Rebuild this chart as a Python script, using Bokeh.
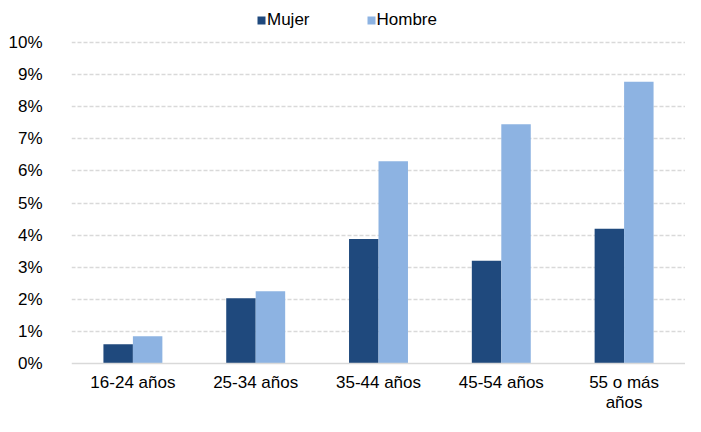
from bokeh.plotting import figure
from bokeh.models import (ColumnDataSource, FactorRange, Range1d, FixedTicker, PrintfTickFormatter,
                          Legend, LegendItem, Span)
from bokeh.transform import dodge
from bokeh.core.properties import value
from bokeh.embed import file_html
from bokeh.resources import INLINE

categories = ["16-24 años", "25-34 años", "35-44 años", "45-54 años", "55 o más\naños"]
mujer = [0.60, 2.03, 3.88, 3.20, 4.20]
hombre = [0.85, 2.25, 6.30, 7.45, 8.78]
y_ticks = [0, 1, 2, 3, 4, 5, 6, 7, 8, 9, 10]

FONT = "Liberation Sans"

# layout (pixels): frame is the whole plot right of the y labels
H, W = 416, 685
TOP10, ZERO = 42, 363            # pixel rows of 10% and 0%
PX = (ZERO - TOP10) / 10.0       # pixels per percentage point
LABEL_GAP = 9                    # gap between baseline and category labels

src = ColumnDataSource(dict(cat=categories, mujer=mujer, hombre=hombre,
                            label_y=[-LABEL_GAP / PX] * len(categories)))

p = figure(width=W, height=H, output_backend="svg", toolbar_location=None,
           x_range=FactorRange(factors=categories, range_padding=0),
           y_range=Range1d(-(H - ZERO) / PX, 10 + TOP10 / PX),
           min_border_left=71, min_border_right=0, min_border_top=0, min_border_bottom=0)
p.outline_line_color = None
p.background_fill_color = "white"
p.border_fill_color = "white"

r1 = p.vbar(x=dodge("cat", -0.12, range=p.x_range), top="mujer", width=0.24, source=src,
            fill_color="#1F497D", line_color=None)
r2 = p.vbar(x=dodge("cat", 0.12, range=p.x_range), top="hombre", width=0.24, source=src,
            fill_color="#8DB3E2", line_color=None)

p.xgrid.visible = False
p.ygrid.ticker = FixedTicker(ticks=y_ticks[1:])
p.ygrid.grid_line_color = "#d9d9d9"
p.ygrid.grid_line_dash = "4 2"
p.ygrid.grid_line_width = 1.5

p.yaxis.ticker = FixedTicker(ticks=y_ticks)
p.yaxis.formatter = PrintfTickFormatter(format="%d%%")
p.yaxis.axis_line_color = None
p.yaxis.major_tick_line_color = None
p.yaxis.minor_tick_line_color = None
p.yaxis.major_label_standoff = 23
p.yaxis.major_label_text_font = FONT
p.yaxis.major_label_text_font_size = "17px"
p.yaxis.major_label_text_color = "#000000"

p.xaxis.visible = False
p.add_layout(Span(location=0, dimension="width", line_color="#d9d9d9", line_width=1.5))

p.text(x="cat", y="label_y", text="cat", source=src,
       text_align="center", text_baseline="top",
       text_font=value(FONT), text_font_size="17px", text_color="#000000",
       text_line_height=1.1)

legend = Legend(items=[LegendItem(label="Mujer", renderers=[r1]),
                       LegendItem(label="Hombre", renderers=[r2])],
                orientation="horizontal", location=(185, 386),
                glyph_width=10, glyph_height=10, label_standoff=1, spacing=56,
                padding=0, margin=0, border_line_color=None, background_fill_alpha=0,
                label_text_font=FONT, label_text_font_size="17px", label_text_color="#000000",
                label_height=18)
p.add_layout(legend, "center")

open("out.html", "w").write(file_html(p, INLINE))
